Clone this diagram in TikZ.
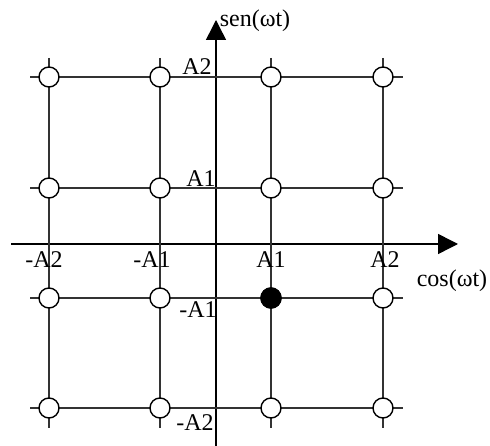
\documentclass[tikz,border=0pt]{standalone}
\usepackage{fontspec}
\setmainfont{Liberation Serif}
\usetikzlibrary{arrows.meta}
\tikzset{
  gridline/.style={line width=1.2pt, draw=black!80},
  axisline/.style={line width=1.5pt, -{Triangle[length=20pt,width=20pt]}},
  pt/.style={circle, draw, line width=1.4pt, minimum size=20pt, inner sep=0pt, fill=white},
  ptfull/.style={pt, fill=black},
  lbl/.style={inner sep=0pt, anchor=base, font=\fontsize{24}{27}\selectfont}
}
\begin{document}
\begin{tikzpicture}[x=1pt,y=-1pt]
\useasboundingbox (0,0) rectangle (490,446);
% axes
\coordinate (xs) at (11,244);
\coordinate (xe) at (458,244);
\coordinate (ys) at (216,446);
\coordinate (ye) at (216,20);
\draw[axisline] (xs) -- (xe);
\draw[axisline] (ys) -- (ye);
% grid lines
\foreach \y [count=\j] in {77,188,298,408} {
  \coordinate (h\j a) at (30,\y);
  \coordinate (h\j b) at (403,\y);
  \draw[gridline] (h\j a) -- (h\j b);
}
\foreach \x [count=\i] in {49,160,271,383} {
  \coordinate (v\i a) at (\x,58);
  \coordinate (v\i b) at (\x,428);
  \draw[gridline] (v\i a) -- (v\i b);
}
% constellation points
\foreach \x [count=\i] in {49,160,271,383} {
  \foreach \y [count=\j] in {77,188,298,408} {
    \node[pt] (p\i\j) at (\x,\y) {};
  }
}
\node[ptfull] (sel) at (271,298) {};
% labels
\node[lbl] (lA2) at (197,75) {A2};
\node[lbl] (lA1) at (201,187) {A1};
\node[lbl] (lmA1) at (198,318) {-A1};
\node[lbl] (lmA2) at (195,430) {-A2};
\node[lbl] (xmA2) at (44,268) {-A2};
\node[lbl] (xmA1) at (152,268) {-A1};
\node[lbl] (xA1) at (271,268) {A1};
\node[lbl] (xA2) at (385,268) {A2};
\node[lbl] (cosl) at (452,287) {cos(ωt)};
\node[lbl] (senl) at (255,27) {sen(ωt)};
\end{tikzpicture}
\end{document}
